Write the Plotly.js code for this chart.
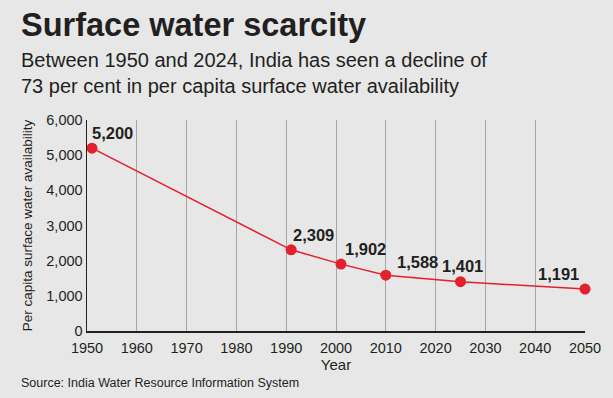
<!DOCTYPE html>
<html>
<head>
<meta charset="utf-8">
<script src="https://cdn.plot.ly/plotly-3.0.1.min.js"></script>
<style>html,body{margin:0;padding:0;background:#e7e7e7;}#chart{width:613px;height:398px;}</style>
</head>
<body>
<div id="chart"></div>
<script>
// ---- data ----
const years = [1951, 1991, 2001, 2010, 2025, 2050];
const availability = [5200, 2309, 1902, 1588, 1401, 1191];
const valueLabels = ["5,200", "2,309", "1,902", "1,588", "1,401", "1,191"];
const xTicks = [1950, 1960, 1970, 1980, 1990, 2000, 2010, 2020, 2030, 2040, 2050];
const yTicks = [0, 1000, 2000, 3000, 4000, 5000, 6000];
const yTickLabels = ["0", "1,000", "2,000", "3,000", "4,000", "5,000", "6,000"];
const titleText = "Surface water scarcity";
const subtitleLines = ["Between 1950 and 2024, India has seen a decline of", "73 per cent in per capita surface water availability"];
const yTitle = "Per capita surface water availability";
const xTitle = "Year";
const sourceText = "Source: India Water Resource Information System";

// ---- layout helpers ----
const W = 613, H = 398;
const M = {l: 87, r: 28, t: 120, b: 67};
const PW = W - M.l - M.r, PH = H - M.t - M.b;
const px = x => (x - M.l) / PW;
const py = y => (H - M.b - y) / PH;

const sans = "Liberation Sans, Arial, sans-serif";
const dark = "#231f20";
const red = "#e3202c";

// label placement styles (per point)
const labelStyle = [
  {xanchor: "left", xshift: -2, yshift: 15},
  {xanchor: "left", xshift: 0, yshift: 15},
  {xanchor: "left", xshift: 2, yshift: 15},
  {xanchor: "left", xshift: 9, yshift: 13},
  {xanchor: "center", xshift: 2, yshift: 16},
  {xanchor: "right", xshift: -4, yshift: 15}
];

const annotations = years.map((yr, i) => ({
  x: yr, y: availability[i], xref: "x", yref: "y",
  text: valueLabels[i], showarrow: false,
  xanchor: labelStyle[i].xanchor, yanchor: "middle",
  xshift: labelStyle[i].xshift, yshift: labelStyle[i].yshift,
  font: {family: sans, size: 16.5, color: dark, weight: "bold"}
}));

annotations.push(
  {xref: "paper", yref: "paper", x: px(19), y: py(5), xanchor: "left", yanchor: "top",
   text: "<b>" + titleText + "</b>", showarrow: false,
   font: {family: sans, size: 32.5, color: dark}},
  {xref: "paper", yref: "paper", x: px(19), y: py(60), xanchor: "left", yanchor: "middle",
   text: subtitleLines[0], showarrow: false,
   font: {family: sans, size: 20, color: dark}},
  {xref: "paper", yref: "paper", x: px(19), y: py(86), xanchor: "left", yanchor: "middle",
   text: subtitleLines[1], showarrow: false,
   font: {family: sans, size: 20, color: dark}},
  {xref: "paper", yref: "paper", x: px(19), y: py(383), xanchor: "left", yanchor: "middle",
   text: sourceText, showarrow: false,
   font: {family: sans, size: 12.5, color: dark}}
);

const trace = {
  x: years, y: availability, type: "scatter", mode: "lines+markers",
  line: {color: red, width: 1.5},
  marker: {color: red, size: 11},
  cliponaxis: false, hoverinfo: "skip"
};

const layout = {
  width: W, height: H,
  margin: M,
  paper_bgcolor: "#e7e7e7", plot_bgcolor: "#e7e7e7",
  showlegend: false,
  font: {family: sans, color: dark},
  xaxis: {
    range: [1950, 2050], tickvals: xTicks, ticktext: xTicks.map(String),
    showgrid: true, gridcolor: "#a6a6a6", gridwidth: 1,
    showline: true, linecolor: dark, linewidth: 1.5,
    ticks: "", zeroline: false, ticklabelstandoff: 3,
    tickfont: {family: sans, size: 14.5, color: dark},
    title: {text: xTitle, font: {family: sans, size: 15, color: dark}, standoff: 4}
  },
  yaxis: {
    range: [0, 6000], tickvals: yTicks, ticktext: yTickLabels,
    showgrid: false, zeroline: false,
    showline: true, linecolor: dark, linewidth: 1.5,
    ticks: "", ticklen: 0,
    tickfont: {family: sans, size: 14.5, color: dark},
    title: {text: yTitle, font: {family: sans, size: 13.5, color: dark}, standoff: 10}
  },
  annotations: annotations
};

Plotly.newPlot("chart", [trace], layout, {displayModeBar: false, staticPlot: true});
</script>
</body>
</html>
